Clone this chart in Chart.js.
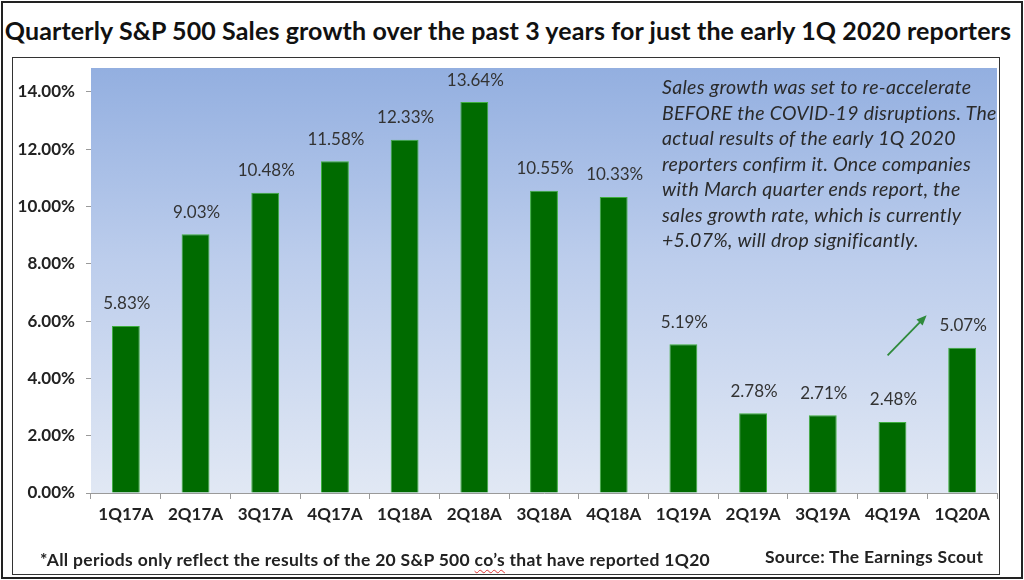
<!DOCTYPE html>
<html>
<head>
<meta charset="utf-8">
<script src="https://cdn.jsdelivr.net/npm/chart.js@4.4.1/dist/chart.umd.min.js"></script>
<style>
    html, body { margin: 0; padding: 0; background: #fff; }
    #page { position: relative; width: 1024px; height: 580px; overflow: hidden; font-family: Lato, "Open Sans", sans-serif; }
    #frame { position: absolute; left: 1px; top: 1px; width: 1018px; height: 574px; border: 2px solid #222; }
    #title { position: absolute; left: 1px; top: 14px; width: 1014px; text-align: center; font-weight: bold; font-size: 25px; letter-spacing: 0.12px; color: #111; white-space: nowrap; line-height: 32px; }
    #box { position: absolute; left: 12px; top: 57px; width: 986px; height: 516px; border: 1px solid #333; }
    #chart-wrap { position: absolute; left: 12px; top: 57px; width: 987px; height: 518px; }
    #note { position: absolute; left: 662px; top: 74px; width: 340px; font-style: italic; font-size: 19.5px; letter-spacing: 0.3px; line-height: 25.5px; color: #2a2a2a; white-space: nowrap; }
    #foot { position: absolute; left: 40px; top: 549px; font-weight: bold; font-size: 17.5px; letter-spacing: 0.3px; line-height: 22px; color: #222; white-space: nowrap; }
    #foot .sp { text-decoration: underline wavy #d33; text-decoration-thickness: 1px; text-underline-offset: 3px; }
    #source { position: absolute; left: 765px; top: 546px; font-weight: bold; font-size: 17.5px; letter-spacing: 0.3px; line-height: 22px; color: #222; white-space: nowrap; }
</style>
</head>
<body>
<div id="page">
    <div id="frame"></div>
    <div id="title">Quarterly S&amp;P 500 Sales growth over the past 3 years for just the early 1Q 2020 reporters</div>
    <div id="box"></div>
    <div id="chart-wrap"><canvas id="sales-chart" width="987" height="518"></canvas></div>
    <div id="note">Sales growth was set to re-accelerate<br>BEFORE the COVID-19 disruptions. The<br>actual results of the early 1Q 2020<br>reporters confirm it. Once companies<br>with March quarter ends report, the<br>sales growth rate, which is currently<br>+5.07%, will drop significantly.</div>
    <div id="foot">*All periods only reflect the results of the 20 S&amp;P 500 <span class="sp">co’s</span> that have reported 1Q20</div>
    <div id="source">Source: The Earnings Scout</div>
</div>
<script>
// Chart data
const quarters = ['1Q17A', '2Q17A', '3Q17A', '4Q17A', '1Q18A', '2Q18A', '3Q18A', '4Q18A', '1Q19A', '2Q19A', '3Q19A', '4Q19A', '1Q20A'];
const salesGrowth = [5.83, 9.03, 10.48, 11.58, 12.33, 13.64, 10.55, 10.33, 5.19, 2.78, 2.71, 2.48, 5.07];
const yTicks = [0, 2, 4, 6, 8, 10, 12, 14];
// arrow near the last bar, in data units: [category index, value]
const arrowFrom = [10.93, 4.8];
const arrowTo = [11.49, 6.2];

const FONT = 'Lato, "Open Sans", sans-serif';

// Plot area gradient background
const plotBackground = {
    id: 'plotBackground',
    beforeDraw(chart) {
        const {ctx, chartArea: a} = chart;
        const g = ctx.createLinearGradient(0, a.top, 0, a.bottom);
        g.addColorStop(0, '#93afe0');
        g.addColorStop(0.45, '#bccdec');
        g.addColorStop(1, '#e1e8f4');
        ctx.save();
        ctx.fillStyle = g;
        ctx.fillRect(a.left, a.top, a.right - a.left, a.bottom - a.top);
        ctx.restore();
    }
};

// Value labels above bars
const barLabels = {
    id: 'barLabels',
    afterDatasetsDraw(chart) {
        const {ctx} = chart;
        const meta = chart.getDatasetMeta(0);
        ctx.save();
        ctx.font = '17px ' + FONT;
        ctx.fillStyle = '#333';
        ctx.textAlign = 'center';
        ctx.textBaseline = 'middle';
        meta.data.forEach((bar, i) => {
            ctx.fillText(salesGrowth[i].toFixed(2) + '%', bar.x + 1, bar.y - 22);
        });
        ctx.restore();
    }
};

// Green arrow pointing up at the latest quarter
const upArrow = {
    id: 'upArrow',
    afterDatasetsDraw(chart) {
        const {ctx, scales: {x, y}} = chart;
        const x1 = x.getPixelForValue(arrowFrom[0]), y1 = y.getPixelForValue(arrowFrom[1]);
        const x2 = x.getPixelForValue(arrowTo[0]), y2 = y.getPixelForValue(arrowTo[1]);
        const ang = Math.atan2(y2 - y1, x2 - x1);
        const head = 11;
        ctx.save();
        ctx.strokeStyle = '#2f8a3c';
        ctx.fillStyle = '#2f8a3c';
        ctx.lineWidth = 1.8;
        ctx.beginPath();
        ctx.moveTo(x1, y1);
        ctx.lineTo(x2 - Math.cos(ang) * head * 0.8, y2 - Math.sin(ang) * head * 0.8);
        ctx.stroke();
        ctx.beginPath();
        ctx.moveTo(x2, y2);
        ctx.lineTo(x2 - head * Math.cos(ang - 0.4), y2 - head * Math.sin(ang - 0.4));
        ctx.lineTo(x2 - head * Math.cos(ang + 0.4), y2 - head * Math.sin(ang + 0.4));
        ctx.closePath();
        ctx.fill();
        ctx.restore();
    }
};

const ctx = document.getElementById('sales-chart').getContext('2d');
new Chart(ctx, {
    type: 'bar',
    data: {
        labels: quarters,
        datasets: [{
            data: salesGrowth,
            backgroundColor: '#006b00',
            borderColor: '#3fae3f',
            borderWidth: 1,
            barPercentage: 0.8,
            categoryPercentage: 0.5
        }]
    },
    options: {
        responsive: false,
        animation: false,
        layout: {padding: {left: 0, right: 2, top: 11, bottom: 0}},
        plugins: {
            legend: {display: false},
            tooltip: {enabled: false}
        },
        scales: {
            x: {
                grid: {drawOnChartArea: false, tickLength: 6, color: '#9a9a9a', offset: true},
                border: {display: true, color: '#9a9a9a'},
                ticks: {
                    padding: 5,
                    color: '#222',
                    maxRotation: 0,
                    font: {family: FONT, size: 17, weight: 'bold'}
                },
                afterFit(scale) {
                    scale.height = 82;
                    scale.paddingLeft = 0;
                    scale.paddingRight = 0;
                }
            },
            y: {
                min: 0,
                max: 14.83,
                afterBuildTicks(scale) { scale.ticks = yTicks.map(v => ({value: v})); },
                grid: {drawOnChartArea: false, tickLength: 5, color: '#9a9a9a'},
                border: {display: false},
                ticks: {
                    padding: 11,
                    color: '#222',
                    font: {family: FONT, size: 17, weight: 'bold'},
                    callback: v => v.toFixed(2) + '%'
                },
                afterFit(scale) {
                    scale.width = 79;
                    scale.paddingTop = 0;
                    scale.paddingBottom = 0;
                }
            }
        }
    },
    plugins: [plotBackground, barLabels, upArrow]
});
</script>
</body>
</html>
